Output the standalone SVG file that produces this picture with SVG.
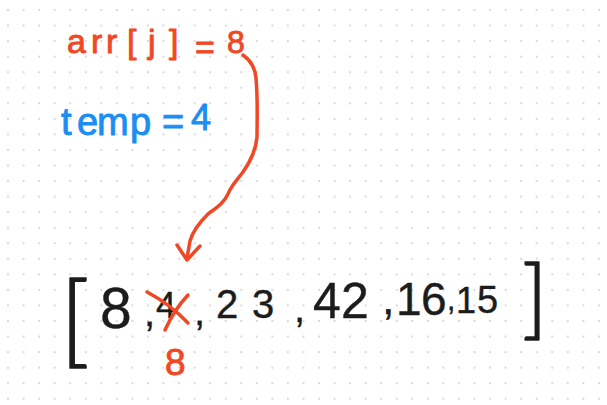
<svg xmlns="http://www.w3.org/2000/svg" width="607" height="405" viewBox="0 0 607 405">
  <defs>
    <pattern id="dots" patternUnits="userSpaceOnUse" x="0.225" y="2.225" width="15.55" height="15.55">
      <circle cx="7.775" cy="7.775" r="0.9" fill="#c9c9c9"/>
    </pattern>
    <style>
      text { font-family: "Liberation Sans", Arial, sans-serif; stroke-linejoin: round; }
      .red { fill: #f04825; stroke: #f04825; stroke-width: 0.9; }
      .blue { fill: #1a8ef2; stroke: #1a8ef2; stroke-width: 0.9; }
      .ink { fill: #1c1c1c; stroke: #1c1c1c; stroke-width: 0.4; }
      .bracket { font-family: Lato, "Liberation Sans", sans-serif; font-weight: 300; stroke: #1c1c1c; stroke-width: 1.6; }
      .stroke-red { fill: none; stroke: #f04825; stroke-width: 3.5; stroke-linecap: round; stroke-linejoin: round; }
    </style>
  </defs>
  <rect width="607" height="405" fill="#ffffff"/>
  <rect width="607" height="405" fill="url(#dots)"/>

  <g id="label-arr-j">
    <text class="red" font-size="34" y="53" x="67 91 106 127 148 169">arr[j]</text>
    <text class="red" font-size="34" x="195" y="59">=</text>
    <text class="red" font-size="32" x="227" y="53">8</text>
  </g>

  <g id="label-temp">
    <text class="blue" font-size="38" y="135" x="61 77 97 130">temp</text>
    <text class="blue" font-size="38" x="162" y="135">=</text>
    <text class="blue" font-size="36" x="191" y="130">4</text>
  </g>

  <g id="array">
    <text class="ink"><tspan class="bracket" font-size="100" x="60" y="355">[</tspan><tspan font-size="57" x="100" y="328">8</tspan><tspan font-size="40" x="144" y="326">,</tspan><tspan font-size="36" x="156" y="318">4</tspan><tspan font-size="40" x="194" y="325">,</tspan><tspan font-size="40" x="216" y="318">2</tspan><tspan font-size="40" x="252" y="318">3</tspan><tspan font-size="40" x="294" y="322">,</tspan><tspan font-size="50" x="313" y="318">4</tspan><tspan font-size="50" x="341" y="318">2</tspan><tspan font-size="45" x="382" y="314">,</tspan><tspan font-size="46" x="396" y="315">1</tspan><tspan font-size="46" x="421" y="315">6</tspan><tspan font-size="30" x="447" y="310">,</tspan><tspan font-size="36" x="456" y="313">1</tspan><tspan font-size="38" x="477" y="313">5</tspan><tspan class="bracket" font-size="86" x="522" y="329">]</tspan></text>
  </g>

  <g id="correction">
    <path class="stroke-red" d="M147,292 Q170,304 188,323"/>
    <path class="stroke-red" d="M188,295 Q174,310 165,330"/>
    <text class="red" font-size="37" x="165" y="375">8</text>
  </g>

  <g id="connectors">
    <path class="stroke-red" d="M243,55 C250,60 255,66 256,78 C258,100 257,120 257,137 C256,150 250,162 243,172 C237,180 231,186 228,194 C224,203 216,208 208,214 C200,222 193,230 190,241 L187,258"/>
    <polyline class="stroke-red" points="177,245 187,260 200,246"/>
  </g>
</svg>
